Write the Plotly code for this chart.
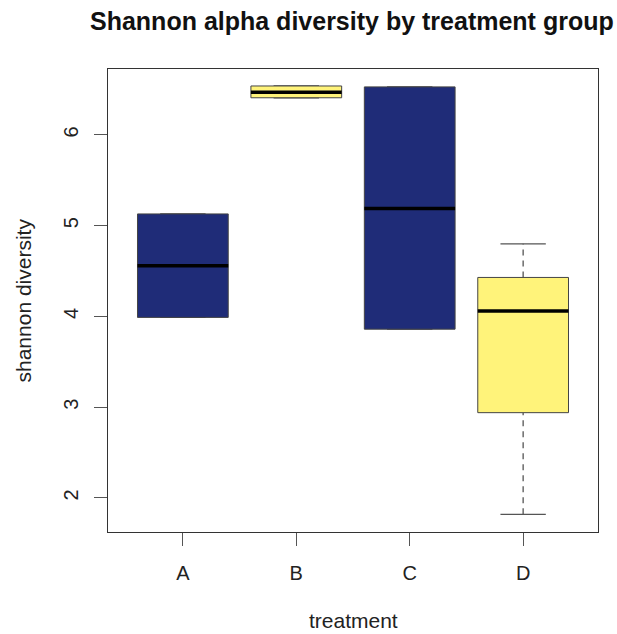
import plotly.graph_objects as go

groups = ["A", "B", "C", "D"]
q1 = [3.99, 6.41, 3.86, 2.94]
median = [4.56, 6.47, 5.19, 4.06]
q3 = [5.13, 6.54, 6.53, 4.43]
wmin = [3.99, 6.41, 3.86, 1.82]
wmax = [5.13, 6.54, 6.53, 4.80]
fills = ["#1F2C78", "#FFF37A", "#1F2C78", "#FFF37A"]

W, H = 617, 634
L, R, T, B = 108, 19, 69, 102
pw, ph = W - L - R, H - T - B

fig = go.Figure()
for i, g in enumerate(groups):
    x0 = i + 1
    hw = 0.4
    # whiskers (dashed)
    fig.add_trace(go.Scatter(x=[x0, x0], y=[q3[i], wmax[i]], mode="lines",
                             line=dict(color="#555555", width=1.3, dash="6px,5px"),
                             hoverinfo="skip", showlegend=False))
    fig.add_trace(go.Scatter(x=[x0, x0], y=[wmin[i], q1[i]], mode="lines",
                             line=dict(color="#555555", width=1.3, dash="6px,5px"),
                             hoverinfo="skip", showlegend=False))
    # caps
    for v in (wmin[i], wmax[i]):
        fig.add_trace(go.Scatter(x=[x0 - hw / 2, x0 + hw / 2], y=[v, v], mode="lines",
                                 line=dict(color="#555555", width=1.3),
                                 hoverinfo="skip", showlegend=False))
    # box
    fig.add_trace(go.Scatter(x=[x0 - hw, x0 + hw, x0 + hw, x0 - hw, x0 - hw],
                             y=[q1[i], q1[i], q3[i], q3[i], q1[i]],
                             mode="lines", fill="toself", fillcolor=fills[i],
                             line=dict(color="#444444", width=1),
                             hoverinfo="skip", showlegend=False))
    # median
    fig.add_trace(go.Scatter(x=[x0 - hw, x0 + hw], y=[median[i], median[i]], mode="lines",
                             line=dict(color="#000000", width=3.5),
                             hoverinfo="skip", showlegend=False))

font = "Liberation Sans, Arial, sans-serif"
fig.update_layout(
    width=W, height=H,
    margin=dict(l=L, r=R, t=T, b=B, autoexpand=False),
    paper_bgcolor="white", plot_bgcolor="white",
    font=dict(family=font, color="#222222", size=20),
    xaxis=dict(range=[0.34, 4.66], tickvals=[1, 2, 3, 4], ticktext=groups,
               showgrid=False, zeroline=False, showline=True, mirror=True,
               linecolor="#333333", linewidth=1.2, ticks="outside", ticklen=13,
               tickcolor="#555555", tickwidth=1.2, ticklabelstandoff=10,
               tickfont=dict(size=20)),
    yaxis=dict(range=[1.625, 6.727], tickvals=[2, 3, 4, 5, 6],
               showgrid=False, zeroline=False, showline=True, mirror=True,
               linecolor="#333333", linewidth=1.2, ticks="outside", ticklen=13,
               tickcolor="#555555", tickwidth=1.2, tickangle=-90,
               ticklabelstandoff=8, tickfont=dict(size=20)),
    annotations=[
        dict(text="<b>Shannon alpha diversity by treatment group</b>", xref="paper", yref="paper",
             x=(352 - L) / pw, y=1 + (T - 21) / ph, xanchor="center", yanchor="middle",
             showarrow=False, font=dict(size=25, color="#111111")),
        dict(text="treatment", xref="paper", yref="paper",
             x=(353 - L) / pw, y=-(620 - (H - B)) / ph, xanchor="center", yanchor="middle",
             showarrow=False, font=dict(size=21)),
        dict(text="shannon diversity", xref="paper", yref="paper", textangle=-90,
             x=(23 - L) / pw, y=0.5, xanchor="center", yanchor="middle",
             showarrow=False, font=dict(size=21)),
    ],
)
fig.write_html("out.html")
